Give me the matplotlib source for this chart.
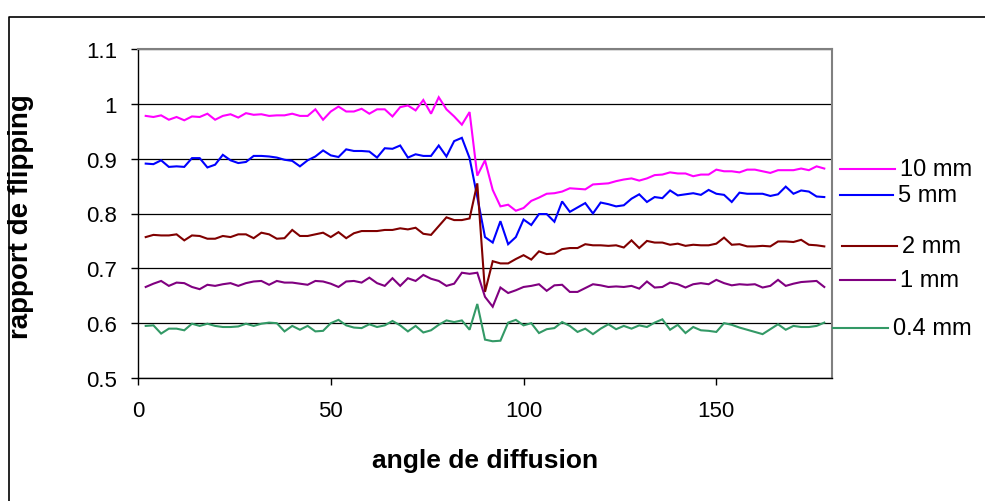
import matplotlib
matplotlib.use("Agg")
import matplotlib.pyplot as plt
from matplotlib.lines import Line2D
from matplotlib.ticker import FuncFormatter

plt.rcParams['font.family'] = ['Liberation Sans', 'DejaVu Sans']

# scattering angle, 2..178 in steps of 2
angles = list(range(2, 180, 2))

# flipping ratio
r_10mm = [0.978, 0.976, 0.979, 0.971, 0.976, 0.970, 0.977, 0.976, 0.982, 0.971,
          0.978, 0.981, 0.975, 0.983, 0.980, 0.981, 0.978, 0.979, 0.979, 0.982,
          0.978, 0.978, 0.990, 0.971, 0.986, 0.995, 0.986, 0.986, 0.991, 0.982,
          0.990, 0.990, 0.977, 0.994, 0.997, 0.988, 1.007, 0.982, 1.012, 0.990,
          0.977, 0.962, 0.985, 0.869, 0.897, 0.843, 0.813, 0.816, 0.805, 0.810,
          0.823, 0.829, 0.836, 0.837, 0.840, 0.846, 0.845, 0.844, 0.853, 0.854,
          0.855, 0.859, 0.862, 0.864, 0.860, 0.864, 0.870, 0.871, 0.875, 0.873,
          0.873, 0.868, 0.871, 0.871, 0.880, 0.877, 0.877, 0.875, 0.880, 0.880,
          0.877, 0.874, 0.879, 0.879, 0.879, 0.882, 0.879, 0.886, 0.882]

r_5mm = [0.891, 0.890, 0.897, 0.885, 0.886, 0.885, 0.901, 0.901, 0.884, 0.889,
         0.907, 0.897, 0.892, 0.894, 0.905, 0.905, 0.904, 0.902, 0.898, 0.896,
         0.886, 0.897, 0.904, 0.915, 0.906, 0.903, 0.917, 0.914, 0.914, 0.913,
         0.902, 0.919, 0.918, 0.924, 0.902, 0.908, 0.905, 0.905, 0.924, 0.904,
         0.932, 0.938, 0.901, 0.830, 0.757, 0.747, 0.786, 0.744, 0.757, 0.789,
         0.779, 0.799, 0.799, 0.785, 0.822, 0.803, 0.811, 0.819, 0.800, 0.820,
         0.817, 0.813, 0.815, 0.827, 0.835, 0.821, 0.830, 0.828, 0.842, 0.833,
         0.835, 0.837, 0.834, 0.843, 0.836, 0.834, 0.821, 0.838, 0.836, 0.836,
         0.836, 0.832, 0.835, 0.849, 0.836, 0.842, 0.840, 0.831, 0.830]

r_2mm = [0.757, 0.761, 0.760, 0.760, 0.762, 0.751, 0.760, 0.759, 0.754, 0.754,
         0.759, 0.757, 0.762, 0.762, 0.755, 0.765, 0.762, 0.754, 0.755, 0.770,
         0.759, 0.759, 0.762, 0.765, 0.757, 0.766, 0.755, 0.764, 0.768, 0.768,
         0.768, 0.770, 0.770, 0.773, 0.771, 0.774, 0.763, 0.761, 0.777, 0.793,
         0.788, 0.788, 0.791, 0.855, 0.657, 0.713, 0.709, 0.709, 0.717, 0.724,
         0.716, 0.731, 0.726, 0.727, 0.735, 0.737, 0.737, 0.744, 0.742, 0.742,
         0.741, 0.742, 0.738, 0.751, 0.737, 0.750, 0.747, 0.747, 0.743, 0.745,
         0.741, 0.743, 0.742, 0.742, 0.745, 0.756, 0.743, 0.744, 0.740, 0.740,
         0.741, 0.740, 0.749, 0.749, 0.748, 0.752, 0.743, 0.742, 0.740]

r_1mm = [0.666, 0.672, 0.677, 0.668, 0.674, 0.673, 0.666, 0.662, 0.670, 0.668,
         0.671, 0.673, 0.668, 0.673, 0.676, 0.677, 0.670, 0.677, 0.674, 0.674,
         0.672, 0.670, 0.677, 0.676, 0.672, 0.666, 0.676, 0.677, 0.674, 0.683,
         0.673, 0.668, 0.682, 0.668, 0.682, 0.677, 0.688, 0.681, 0.677, 0.668,
         0.672, 0.692, 0.690, 0.692, 0.648, 0.630, 0.665, 0.655, 0.660, 0.666,
         0.668, 0.671, 0.659, 0.669, 0.670, 0.657, 0.657, 0.664, 0.671, 0.669,
         0.666, 0.667, 0.666, 0.668, 0.663, 0.676, 0.665, 0.666, 0.674, 0.671,
         0.665, 0.671, 0.673, 0.671, 0.679, 0.673, 0.669, 0.671, 0.670, 0.671,
         0.665, 0.668, 0.679, 0.668, 0.672, 0.675, 0.676, 0.677, 0.666]

r_04mm = [0.595, 0.596, 0.581, 0.590, 0.590, 0.587, 0.599, 0.595, 0.599, 0.595,
          0.593, 0.593, 0.594, 0.599, 0.595, 0.599, 0.601, 0.600, 0.585, 0.595,
          0.588, 0.595, 0.585, 0.586, 0.600, 0.606, 0.596, 0.592, 0.591, 0.598,
          0.593, 0.596, 0.604, 0.596, 0.585, 0.595, 0.583, 0.587, 0.597, 0.605,
          0.602, 0.605, 0.588, 0.635, 0.570, 0.567, 0.568, 0.601, 0.606, 0.596,
          0.600, 0.582, 0.589, 0.591, 0.602, 0.595, 0.584, 0.590, 0.580, 0.590,
          0.598, 0.589, 0.595, 0.590, 0.596, 0.593, 0.601, 0.607, 0.588, 0.597,
          0.582, 0.593, 0.587, 0.586, 0.584, 0.600, 0.597, 0.592, 0.588, 0.584,
          0.580, 0.589, 0.598, 0.588, 0.595, 0.593, 0.593, 0.595, 0.601]

labels = ['10 mm', '5 mm', '2 mm', '1 mm', '0.4 mm']
colors = ['#FF00FF', '#0000FF', '#800000', '#800080', '#339966']
series = [r_10mm, r_5mm, r_2mm, r_1mm, r_04mm]

W, H = 985, 502
fig = plt.figure(figsize=(W / 100, H / 100), dpi=100)
ax = fig.add_axes([138 / W, 1 - 379 / H, 694 / W, 329 / H])

for vals, col in zip(series, colors):
    ax.plot(angles, vals, color=col, lw=1.5, solid_joinstyle='miter')

ax.set_xlim(0, 180)
ax.set_ylim(0.5, 1.1)
ax.set_xticks([0, 50, 100, 150])
ax.set_yticks([0.5, 0.6, 0.7, 0.8, 0.9, 1.0, 1.1])
ax.yaxis.set_major_formatter(FuncFormatter(lambda v, p: f"{v:g}"))
ax.grid(axis='y', color='black', lw=0.9)
ax.set_axisbelow(True)

for side in ['top', 'right']:
    ax.spines[side].set_color('#808080')
    ax.spines[side].set_linewidth(1.5)
for side in ['left', 'bottom']:
    ax.spines[side].set_color('black')
    ax.spines[side].set_linewidth(1.0)

ax.tick_params(axis='y', direction='out', length=5, width=1, labelsize=16, pad=10)
ax.tick_params(axis='x', direction='out', length=5, width=1, labelsize=16, pad=11)

fig.text(485 / W, 1 - 461 / H, 'angle de diffusion', ha='center', va='center',
         fontsize=19, fontweight='bold')
fig.text(21 / W, 1 - 217 / H, 'rapport de flipping', ha='center', va='center',
         rotation=90, fontsize=20, fontweight='bold')

# legend entries placed like the Excel original
leg_pos = [(840, 895, 170), (840, 893, 196), (842, 897, 247), (840, 895, 281), (833, 888, 329)]
for (x0, x1, y), lab, col in zip(leg_pos, labels, colors):
    fig.add_artist(Line2D([x0 / W, x1 / W], [1 - y / H, 1 - y / H], color=col, lw=1.5))
    fig.text((x1 + 5) / W, 1 - y / H, lab, ha='left', va='center', fontsize=17)

# chart area border (cropped on the right and bottom)
fig.add_artist(Line2D([9 / W, 9 / W, 1.0], [0.0, 1 - 18 / H, 1 - 18 / H], color='black', lw=1.2))

fig.savefig('out.png', dpi=100)
